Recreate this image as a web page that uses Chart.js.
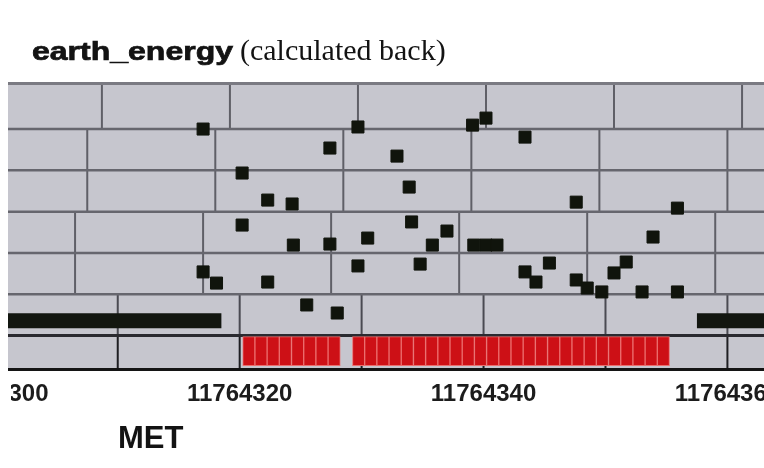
<!DOCTYPE html>
<html>
<head>
<meta charset="utf-8">
<script src="https://cdn.jsdelivr.net/npm/chart.js@4.4.1/dist/chart.umd.min.js"></script>
<style>
  html, body { margin: 0; padding: 0; background: #fff; overflow: hidden; width: 764px; height: 468px; }
  #wrap { position: absolute; left: -82px; top: 0; width: 936px; height: 468px; }
</style>
</head>
<body>
<div id="wrap"><canvas id="c" width="936" height="468"></canvas></div>
<script>
// Time axis (MET) labels
const metTicks = [11764300, 11764320, 11764340, 11764360];

// earth_energy samples: MET time and calculated-back energy
const sampleMet = [
  11764317.0, 11764320.2, 11764320.2, 11764322.3, 11764324.3, 11764324.4, 11764322.3,
  11764317.0, 11764318.1, 11764325.5, 11764328.0, 11764327.4, 11764327.4, 11764329.7,
  11764329.7, 11764330.5, 11764332.9, 11764333.9, 11764334.1, 11764334.8, 11764335.8,
  11764337.0, 11764339.1, 11764340.2, 11764343.4, 11764339.2, 11764340.2, 11764341.1,
  11764343.4, 11764344.3, 11764345.4, 11764347.6, 11764347.6, 11764348.5, 11764349.7,
  11764350.7, 11764351.7, 11764353.0, 11764353.9, 11764355.9, 11764355.9
];
const sampleEnergy = [
  100.0, 78.7, 53.5, 65.6, 63.7, 43.8, 25.9,
  30.8, 25.4, 14.8, 10.9, 90.8, 44.3, 101.0,
  33.7, 47.2, 86.9, 71.9, 55.0, 34.6, 43.8,
  50.6, 101.9, 105.3, 96.1, 43.8, 43.8, 43.8,
  30.8, 25.9, 35.1, 64.6, 26.9, 23.0, 21.1,
  30.3, 35.6, 21.1, 47.7, 61.7, 21.1
];

// Seconds flagged in the red state strip (one block per second)
const flaggedSeconds = [
  11764320.75, 11764321.75, 11764322.75, 11764323.75, 11764324.75, 11764325.75,
  11764326.75, 11764327.75,
  11764329.75, 11764330.75, 11764331.75, 11764332.75, 11764333.75, 11764334.75,
  11764335.75, 11764336.75, 11764337.75, 11764338.75, 11764339.75, 11764340.75,
  11764341.75, 11764342.75, 11764343.75, 11764344.75, 11764345.75, 11764346.75,
  11764347.75, 11764348.75, 11764349.75, 11764350.75, 11764351.75, 11764352.75,
  11764353.75, 11764354.75
];
const flagRange = [-14.6, -0.5];

// Black state bar: start/end MET of each interval and its level
const blackStart = [11764301.0, 11764357.5];
const blackEnd = [11764318.5, 11764363.0];
const blackLevel = 7.2;

const xMin = 11764301, xMax = 11764363;
const yMin = -16.7, yMax = 122.3;

const pointData = sampleMet.map((m, i) => ({ x: m, y: sampleEnergy[i] }));
const flagData = flaggedSeconds.map(s => ({ x: s, y: flagRange }));
const blackData = [];
blackStart.forEach((s, i) => {
  if (i > 0) blackData.push({ x: (blackEnd[i - 1] + s) / 2, y: null });
  blackData.push({ x: s, y: blackLevel }, { x: blackEnd[i], y: blackLevel });
});

// Panel: background, horizontal rulings and the band-wise vertical rulings
const panelPlugin = {
  id: 'panel',
  beforeDatasetsDraw(chart) {
    const { ctx, chartArea: a, scales: { x, y } } = chart;
    ctx.save();
    ctx.fillStyle = '#c6c6ce';
    ctx.fillRect(a.left, a.top, a.right - a.left, a.bottom - a.top);

    const bands = [
      { hi: yMax, lo: 100, start: 11764308.7, step: 10.5, color: '#5f5f67' },
      { hi: 100, lo: 80, start: 11764307.5, step: 10.5, color: '#5f5f67' },
      { hi: 80, lo: 60, start: 11764307.5, step: 10.5, color: '#5f5f67' },
      { hi: 60, lo: 40, start: 11764306.5, step: 10.5, color: '#5f5f67' },
      { hi: 40, lo: 20, start: 11764306.5, step: 10.5, color: '#5f5f67' },
      { hi: 20, lo: 0, start: 11764310, step: 10, color: '#4a4a52' },
      { hi: 0, lo: yMin, start: 11764310, step: 10, color: '#1e1e22' }
    ];
    ctx.lineWidth = 2;
    bands.forEach(b => {
      const yt = y.getPixelForValue(b.hi), yb = y.getPixelForValue(b.lo);
      ctx.strokeStyle = b.color;
      for (let k = 0; k < 7; k++) {
        const px = x.getPixelForValue(b.start + k * b.step);
        if (px < a.left || px > a.right) continue;
        ctx.beginPath(); ctx.moveTo(px, yt); ctx.lineTo(px, yb); ctx.stroke();
      }
    });

    const hline = (v, color, w) => {
      const py = y.getPixelForValue(v);
      ctx.strokeStyle = color; ctx.lineWidth = w;
      ctx.beginPath(); ctx.moveTo(a.left, py); ctx.lineTo(a.right, py); ctx.stroke();
    };
    [20, 40, 60, 80, 100].forEach(v => hline(v, '#66666e', 2.5));
    hline(0, '#2a2a30', 3);
    ctx.fillStyle = '#7a7a82';
    ctx.fillRect(a.left, a.top - 1, a.right - a.left, 3);
    ctx.fillStyle = '#141414';
    ctx.fillRect(a.left, a.bottom - 2, a.right - a.left, 3);
    ctx.restore();
  }
};

// Heading, axis name and the trimmed left margin under the axis
const textPlugin = {
  id: 'texts',
  afterDraw(chart) {
    const { ctx, chartArea: a } = chart;
    ctx.save();
    ctx.fillStyle = '#ffffff';
    ctx.fillRect(0, a.bottom + 2, a.left + 3, chart.height - a.bottom);

    ctx.fillStyle = '#131313';
    ctx.strokeStyle = '#131313';
    ctx.textBaseline = 'alphabetic';
    ctx.textAlign = 'left';
    const x0 = a.left + 24, base = 60;
    ctx.font = 'bold 25px "Liberation Sans", Arial, sans-serif';
    const w = ctx.measureText('earth_energy').width * 1.28;
    ctx.save();
    ctx.translate(x0, base);
    ctx.scale(1.28, 1);
    ctx.lineWidth = 0.7;
    ctx.fillText('earth_energy', 0, 0);
    ctx.strokeText('earth_energy', 0, 0);
    ctx.restore();
    ctx.font = '30px "Liberation Serif", "Times New Roman", serif';
    ctx.fillText('(calculated back)', x0 + w + 7, base);
    ctx.font = 'bold 31px "Liberation Sans", Arial, sans-serif';
    ctx.fillText('MET', a.left + 110, 448);
    ctx.restore();
  }
};

new Chart(document.getElementById('c'), {
  type: 'scatter',
  data: {
    datasets: [
      {
        type: 'scatter',
        label: 'earth_energy',
        data: pointData,
        pointStyle: 'rect',
        pointRadius: 8.5,
        pointBorderWidth: 1,
        backgroundColor: '#10140c',
        borderColor: '#10140c',
        order: 1
      },
      {
        type: 'line',
        label: 'state',
        data: blackData,
        borderColor: '#121610',
        borderWidth: 15,
        borderCapStyle: 'butt',
        pointRadius: 0,
        spanGaps: false,
        tension: 0,
        order: 2
      },
      {
        type: 'bar',
        label: 'flag',
        data: flagData,
        backgroundColor: '#cd1016',
        borderColor: '#ec6e6e',
        borderWidth: 1,
        borderSkipped: false,
        barPercentage: 1,
        categoryPercentage: 1,
        order: 3
      }
    ]
  },
  options: {
    responsive: false,
    animation: false,
    events: [],
    layout: { padding: { left: 90, right: 90, top: 83, bottom: 0 } },
    plugins: { legend: { display: false }, title: { display: false }, tooltip: { enabled: false } },
    scales: {
      x: {
        type: 'linear',
        min: xMin,
        max: xMax,
        offset: false,
        grid: { display: false, drawTicks: false, tickLength: 0 },
        border: { display: false },
        afterBuildTicks: s => { s.ticks = metTicks.map(v => ({ value: v })); },
        afterFit: s => { s.height = 98; },
        ticks: {
          autoSkip: false,
          maxRotation: 0,
          padding: 10,
          color: '#1c1c1c',
          font: { family: '"Liberation Sans", Arial, sans-serif', size: 24, weight: 'bold' },
          callback: v => String(v)
        }
      },
      y: {
        type: 'linear',
        display: false,
        min: yMin,
        max: yMax
      }
    }
  },
  plugins: [panelPlugin, textPlugin]
});
</script>
</body>
</html>
